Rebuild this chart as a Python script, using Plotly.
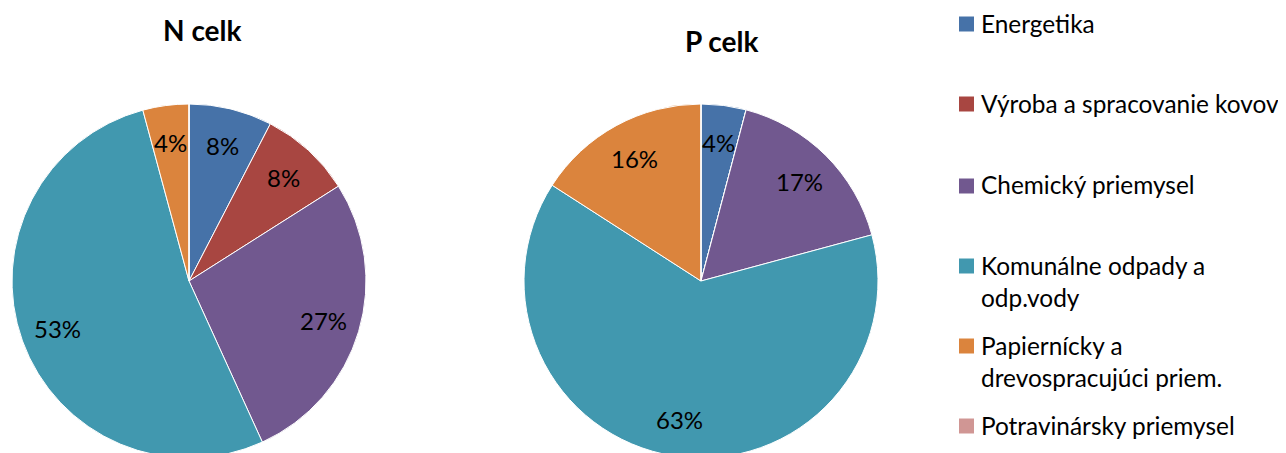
import math
import plotly.graph_objects as go

categories = ["Energetika", "Výroba a spracovanie kovov", "Chemický priemysel",
              "Komunálne odpady a odp.vody", "Papiernícky a drevospracujúci priem.",
              "Potravinársky priemysel"]
legend_text = ["Energetika", "Výroba a spracovanie kovov", "Chemický priemysel",
               "Komunálne odpady a<br>odp.vody", "Papiernícky a<br>drevospracujúci priem.",
               "Potravinársky priemysel"]
n_celk = [7.6, 8.4, 27.2, 52.6, 4.2, 0]
p_celk = [4.1, 0, 16.7, 63.3, 15.9, 0]
colors = ["#4672A8", "#A84641", "#71588F", "#4198AF", "#DB843D", "#D09694"]
titles = ["N celk", "P celk"]

W, H = 1286, 453
OFF = 8  # page body margin
FONT = "Lato"
LABEL_R = 0.79  # label distance from centre, as a fraction of radius

def px(x):
    return (x - OFF) / W

def py(y):
    return 1 - (y - OFF) / H

annotations = []

def pie(values, cx, cy, r):
    total = sum(values)
    cum = 0.0
    for v in values:
        if v > 0:
            th = 2 * math.pi * (cum + v / 2) / total
            lx = cx + LABEL_R * r * math.sin(th)
            ly = cy - LABEL_R * r * math.cos(th)
            annotations.append(dict(text=f"{round(100 * v / total)}%", x=px(lx), y=py(ly),
                                    xref="paper", yref="paper", showarrow=False,
                                    xanchor="center", yanchor="middle",
                                    font=dict(family=FONT, size=24, color="black")))
        cum += v
    return go.Pie(
        labels=categories, values=values, sort=False, direction="clockwise", rotation=0,
        marker=dict(colors=colors, line=dict(color="white", width=1)),
        textinfo="none",
        domain=dict(x=[px(cx - r), px(cx + r)], y=[max(0, py(cy + r)), py(cy - r)]),
        showlegend=False, hoverinfo="label+percent",
    )

fig = go.Figure()
fig.add_trace(pie(n_celk, 189, 281, 177))
fig.add_trace(pie(p_celk, 701, 281, 177))

title_pos = [(203, 30), (722, 41)]
for t, (x, y) in zip(titles, title_pos):
    annotations.append(dict(text="<b>" + t + "</b>", x=px(x), y=py(y), xref="paper", yref="paper",
                            showarrow=False, xanchor="center", yanchor="middle",
                            font=dict(family=FONT, size=28, color="black")))

shapes = []
legend_y = [24, 104, 186, 266, 346, 426]
for txt, col, y in zip(legend_text, colors, legend_y):
    shapes.append(dict(type="rect", xref="paper", yref="paper",
                       x0=px(959), x1=px(974), y0=py(y + 7.5), y1=py(y - 7.5),
                       fillcolor=col, line=dict(width=0)))
    annotations.append(dict(text=txt, x=px(979), y=py(y - 17.5), xref="paper", yref="paper",
                            showarrow=False, xanchor="left", yanchor="top", align="left",
                            font=dict(family=FONT, size=24.4, color="black")))

fig.update_layout(width=W, height=H, margin=dict(l=0, r=0, t=0, b=0),
                  paper_bgcolor="white", plot_bgcolor="white",
                  annotations=annotations, shapes=shapes)
fig.write_html("out.html")
